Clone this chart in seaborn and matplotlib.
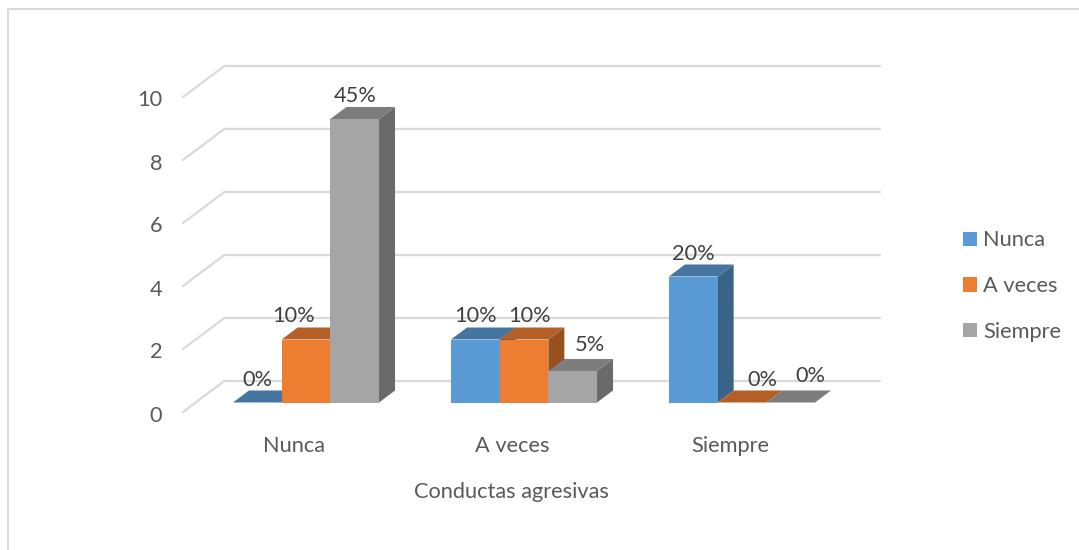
import seaborn as sns
import matplotlib.pyplot as plt
import pandas as pd
from matplotlib.colors import to_rgb
from matplotlib.lines import Line2D
from matplotlib.patches import Polygon
from matplotlib.transforms import ScaledTranslation

categorias = ["Nunca", "A veces", "Siempre"]
series = ["Nunca", "A veces", "Siempre"]
nunca = [0, 2, 4]
a_veces = [2, 2, 0]
siempre = [9, 1, 0]
etiquetas = ["0%", "10%", "45%", "10%", "10%", "5%", "20%", "0%", "0%"]
# manual shift of each label in pixels, Excel moved some of them
etiq_dx = [0, -13, 0, 0, 6, 17, 0, 20, 20]
etiq_dy = [23, 24, 23, 24, 24, 26, 23, 23, 26]
colores = ["#5B9BD5", "#ED7D31", "#A5A5A5"]

W, H = 1079, 550
AX_L, AX_R, AX_B, AX_T = 183, 880, 402.5, 87.5
PX_CAT = 218   # pixels per category
PX_VAL = 31.5  # pixels per unit
CENTRO0 = 306
FS = 15.7

df = pd.DataFrame({
    "categoria": categorias * 3,
    "serie": [s for s in series for _ in categorias],
    "valor": nunca + a_veces + siempre,
})

sns.set_theme(style="white")
plt.rcParams["font.family"] = ["Lato", "DejaVu Sans"]

fig = plt.figure(figsize=(W / 100, H / 100), dpi=100, facecolor="white")
ax = fig.add_axes([AX_L / W, 1 - AX_B / H, (AX_R - AX_L) / W, (AX_B - AX_T) / H])

sns.barplot(data=df, x="categoria", y="valor", hue="serie", order=categorias,
            hue_order=series, palette=colores, width=0.67, gap=0, saturation=1,
            linewidth=0, ax=ax)

ax.set_xlim((AX_L - CENTRO0) / PX_CAT, (AX_R - CENTRO0) / PX_CAT)
ax.set_ylim(0, 10)
sns.despine(ax=ax, left=True, bottom=True)
ax.patch.set_alpha(0)

dx = 1 / PX_CAT
dy = 1 / PX_VAL
x0, x1 = ax.get_xlim()

# back wall and side wall of the 3D box
GRIS = "#DADADA"
for v in range(0, 11, 2):
    ax.plot([x0 + 42 * dx, x1], [v + 22 * dy] * 2, color=GRIS, lw=1.6, zorder=1, clip_on=False)
    ax.plot([x0, x0 + 42 * dx], [v - 9.5 * dy, v + 22 * dy], color=GRIS, lw=1.6, zorder=1,
            clip_on=False, solid_capstyle="round")

# front faces come from seaborn, depth faces are built on top of them
barras = []
for cont, color in zip(ax.containers, colores):
    for b in cont:
        barras.append((b, color))
barras.sort(key=lambda t: t[0].get_x())

prof_x, prof_y = 16 * dx, 12 * dy
z = 3
for (b, color), txt, ex, ey in zip(barras, etiquetas, etiq_dx, etiq_dy):
    xa, xb, h = b.get_x(), b.get_x() + b.get_width(), b.get_height()
    rgb = to_rgb(color)
    ax.add_patch(Polygon([(xb, 0), (xb + prof_x, prof_y), (xb + prof_x, h + prof_y), (xb, h)],
                         facecolor=[c * 0.64 for c in rgb], edgecolor="none", zorder=z,
                         clip_on=False))
    ax.add_patch(Polygon([(xa, h), (xa + prof_x, h + prof_y), (xb + prof_x, h + prof_y), (xb, h)],
                         facecolor=[c * 0.76 for c in rgb], edgecolor="none", zorder=z,
                         clip_on=False))
    b.set_zorder(z + 1)
    ax.text((xa + xb) / 2 + ex * dx, h + ey * dy, txt, ha="center", va="center",
            fontsize=FS, color="#404040", zorder=50, clip_on=False)
    z += 2

ax.set_yticks(range(0, 11, 2))
ax.set_xticks(range(3))
ax.set_xticklabels(categorias)
ax.tick_params(axis="both", length=0, labelsize=FS, labelcolor="#595959")
ax.tick_params(axis="y", pad=15)
ax.tick_params(axis="x", pad=24)
for lab in ax.get_yticklabels():
    lab.set_transform(lab.get_transform() + ScaledTranslation(0, -11 / 100, fig.dpi_scale_trans))
for lab in ax.get_xticklabels():
    lab.set_transform(lab.get_transform() + ScaledTranslation(-12 / 100, 0, fig.dpi_scale_trans))

ax.set_ylabel("")
ax.set_xlabel("Conductas agresivas", fontsize=FS, color="#595959", va="center")
ax.xaxis.set_label_coords((511 - AX_L) / (AX_R - AX_L), (AX_B - 492) / (AX_B - AX_T))

handles, labels = ax.get_legend_handles_labels()
ax.legend(handles, labels, loc="upper left", bbox_to_anchor=(963 / W, 1 - 230.5 / H),
          bbox_transform=fig.transFigure, frameon=False, fontsize=FS, title=None,
          handlelength=0.64, handleheight=0.64, handletextpad=0.3, labelspacing=1.17,
          labelcolor="#595959", borderpad=0, borderaxespad=0)

# chart frame
fig.add_artist(Line2D([7.5 / W, 7.5 / W], [0, 1 - 9 / H], color=GRIS, lw=1.5))
fig.add_artist(Line2D([7.5 / W, 1], [1 - 9 / H, 1 - 9 / H], color=GRIS, lw=1.5))

fig.savefig("out.png", dpi=100)
